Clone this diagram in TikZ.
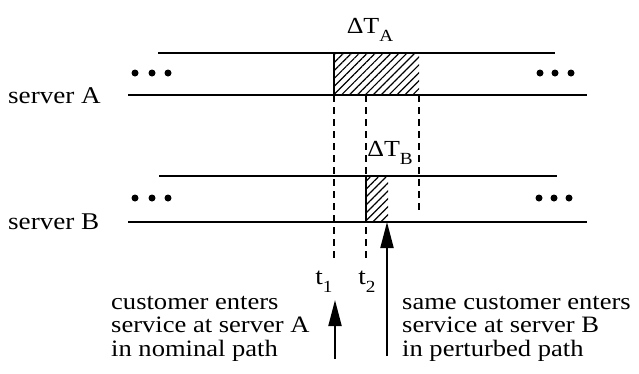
\documentclass[tikz,border=0pt]{standalone}
\usepackage{fontspec}
\setmainfont{Liberation Serif}
\newfontfamily\widefont[FakeStretch=1.13]{Liberation Serif}
\usetikzlibrary{patterns.meta,arrows.meta}
\newcommand{\lowsub}[1]{\raisebox{-0.35em}{\fontsize{17}{17}\selectfont #1}}
\begin{document}
\begin{tikzpicture}[x=1pt,y=-1pt,
  serverline/.style={line width=2.3pt},
  guide/.style={line width=1.7pt,dash pattern=on 7pt off 5pt},
  hatch/.style={pattern={Lines[angle=45,distance=5.6pt,line width=1.2pt]}},
  dot/.style={circle,fill=black,inner sep=0pt,minimum size=7pt},
  label/.style={font=\widefont\fontsize{24}{24}\selectfont,inner sep=0pt},
  caption/.style={font=\widefont\fontsize{23.5}{23.5}\selectfont,inner sep=0pt,align=left},
  pointer/.style={line width=2pt,-{Triangle[length=26pt,width=13pt]}}]
\useasboundingbox (0,0) rectangle (639,373);

% hatched service intervals
\fill[hatch] (334,53) rectangle (419,95);
\fill[hatch] (366,176) rectangle (388,222);
\draw[line width=1.5pt] (334,53) -- (334,95);
\draw[line width=1.5pt] (366,176) -- (366,222);

% server A queue
\coordinate (aTopL) at (158,53);
\coordinate (aTopR) at (555,53);
\coordinate (aBotL) at (128,95);
\coordinate (aBotR) at (587,95);
\draw[serverline] (aTopL) -- (aTopR);
\draw[serverline] (aBotL) -- (aBotR);
\node[dot] (ad1) at (135,73) {};
\node[dot] (ad2) at (152,73) {};
\node[dot] (ad3) at (168,73) {};
\node[dot] (ad4) at (540,73) {};
\node[dot] (ad5) at (555,73) {};
\node[dot] (ad6) at (571,73) {};
\node[label,anchor=west] (srvA) at (8,96) {server A};

% server B queue
\coordinate (bTopL) at (159,176);
\coordinate (bTopR) at (557,176);
\coordinate (bBotL) at (128,222);
\coordinate (bBotR) at (587,222);
\draw[serverline] (bTopL) -- (bTopR);
\draw[serverline] (bBotL) -- (bBotR);
\node[dot] (bd1) at (135,198) {};
\node[dot] (bd2) at (152,198) {};
\node[dot] (bd3) at (168,198) {};
\node[dot] (bd4) at (539,198) {};
\node[dot] (bd5) at (554,198) {};
\node[dot] (bd6) at (569,198) {};
\node[label,anchor=west] (srvB) at (8,222) {server B};

% interval labels
\node[inner sep=0pt,font=\widefont\fontsize{23}{23}\selectfont] (dTA) at (370,30) {ΔT\lowsub{A}};
\node[inner sep=0pt,font=\widefont\fontsize{23}{23}\selectfont] (dTB) at (390,153) {ΔT\lowsub{B}};

% time markers
\node[inner sep=0pt,font=\widefont\fontsize{24}{24}\selectfont] (t1) at (324,282) {t\lowsub{1}};
\node[inner sep=0pt,font=\widefont\fontsize{24}{24}\selectfont] (t2) at (367,282) {t\lowsub{2}};

\coordinate (g1top) at (334,95);
\coordinate (g1bot) at (334,258);
\coordinate (g2top) at (366,95);
\coordinate (g2bot) at (366,262);
\coordinate (g3top) at (419,95);
\coordinate (g3bot) at (419,214);
\draw[guide] (g1top) -- (g1bot);
\draw[guide] (g2top) -- (g2bot);
\draw[guide] (g3top) -- (g3bot);

% arrival pointers
\coordinate (p1base) at (335,359);
\coordinate (p1tip) at (335,300);
\coordinate (p2base) at (387,356);
\coordinate (p2tip) at (387,222);
\draw[pointer] (p1base) -- (p1tip);
\draw[pointer] (p2base) -- (p2tip);

% captions
\node[caption,anchor=north west] (capA) at (111,296) {customer enters\\service at server A\\in nominal path};
\node[caption,anchor=north west] (capB) at (402,296) {same customer enters\\service at server B\\in perturbed path};
\end{tikzpicture}
\end{document}
